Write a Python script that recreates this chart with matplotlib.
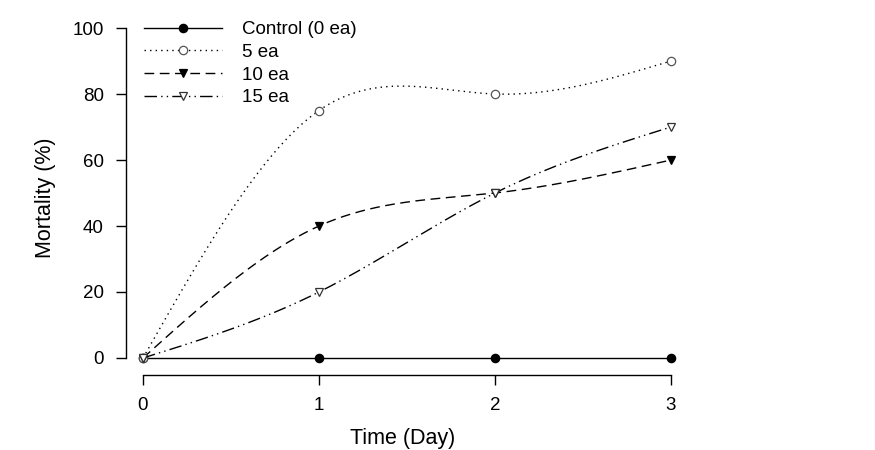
import numpy as np
import matplotlib
matplotlib.use("Agg")
import matplotlib.pyplot as plt

# Data
days = [0, 1, 2, 3]
control = [0, 0, 0, 0]
ea5 = [0, 75, 80, 90]
ea10 = [0, 40, 50, 60]
ea15 = [0, 20, 50, 70]
labels = ["Control (0 ea)", "5 ea", "10 ea", "15 ea"]


def natural_spline(x, y, n=200):
    """Natural cubic spline through the points (smooth line like SigmaPlot)."""
    x = np.asarray(x, float)
    y = np.asarray(y, float)
    k = len(x)
    h = np.diff(x)
    A = np.zeros((k, k))
    b = np.zeros(k)
    A[0, 0] = A[-1, -1] = 1
    for i in range(1, k - 1):
        A[i, i - 1] = h[i - 1]
        A[i, i] = 2 * (h[i - 1] + h[i])
        A[i, i + 1] = h[i]
        b[i] = 3 * ((y[i + 1] - y[i]) / h[i] - (y[i] - y[i - 1]) / h[i - 1])
    c = np.linalg.solve(A, b)
    xs = np.linspace(x[0], x[-1], n)
    ys = np.empty_like(xs)
    for j, xv in enumerate(xs):
        i = min(np.searchsorted(x, xv, side="right") - 1, k - 2)
        dx = xv - x[i]
        bi = (y[i + 1] - y[i]) / h[i] - h[i] * (2 * c[i] + c[i + 1]) / 3
        di = (c[i + 1] - c[i]) / (3 * h[i])
        ys[j] = y[i] + bi * dx + c[i] * dx ** 2 + di * dx ** 3
    return xs, ys


plt.rcParams["font.family"] = ["Liberation Sans", "DejaVu Sans"]

W, H = 875, 450
fig = plt.figure(figsize=(W / 100, H / 100), dpi=100)
# axes placed in pixel terms: left 126, right 680, top 20, bottom 375
ax = fig.add_axes([126 / W, 1 - 375 / H, (680 - 126) / W, (375 - 20) / H])

styles = [
    dict(ls="-", marker="o", mfc="black", mec="black"),
    dict(ls=(0, (1, 3)), marker="o", mfc="white", mec="#555555"),
    dict(ls=(0, (7, 4)), marker="v", mfc="black", mec="black"),
    dict(ls=(0, (9, 3, 1, 3, 1, 3)), marker="v", mfc="white", mec="#333333"),
]

for vals, lab, st in zip([control, ea5, ea10, ea15], labels, styles):
    xs, ys = natural_spline(days, vals)
    ax.plot(xs, ys, color="black", lw=1.0, ls=st["ls"])
    ax.plot(days, vals, ls="none", marker=st["marker"], ms=6,
            mfc=st["mfc"], mec=st["mec"], mew=0.9, clip_on=False)

# legend handles
handles = [
    plt.Line2D([], [], color="black", lw=1.0, ls=st["ls"], marker=st["marker"], ms=6,
               mfc=st["mfc"], mec=st["mec"], mew=0.9)
    for st in styles
]
fig.legend(handles, labels, loc="upper left",
           bbox_to_anchor=(144 / W, 1 - 21 / H), bbox_transform=fig.transFigure,
           frameon=False, fontsize=13.5, handlelength=4.15, handletextpad=1.1,
           labelspacing=0.3, borderaxespad=0, borderpad=0)

ax.set_xlim((126 - 143) / 176, (680 - 143) / 176)
ax.set_ylim((358 - 375) / 3.3, (358 - 20) / 3.3)

ax.spines["top"].set_visible(False)
ax.spines["right"].set_visible(False)
ax.spines["left"].set_bounds(0, 100)
ax.spines["bottom"].set_bounds(0, 3)
ax.spines["left"].set_linewidth(1.0)
ax.spines["bottom"].set_linewidth(1.0)

ax.set_xticks(days)
ax.set_yticks([0, 20, 40, 60, 80, 100])
ax.tick_params(direction="out", length=7, width=1.0, labelsize=13.5, pad=9)

ax.set_xlabel("Time (Day)", fontsize=15.5, labelpad=10)
ax.set_ylabel("Mortality (%)", fontsize=15.5, labelpad=12)

fig.savefig("out.png", dpi=100)
